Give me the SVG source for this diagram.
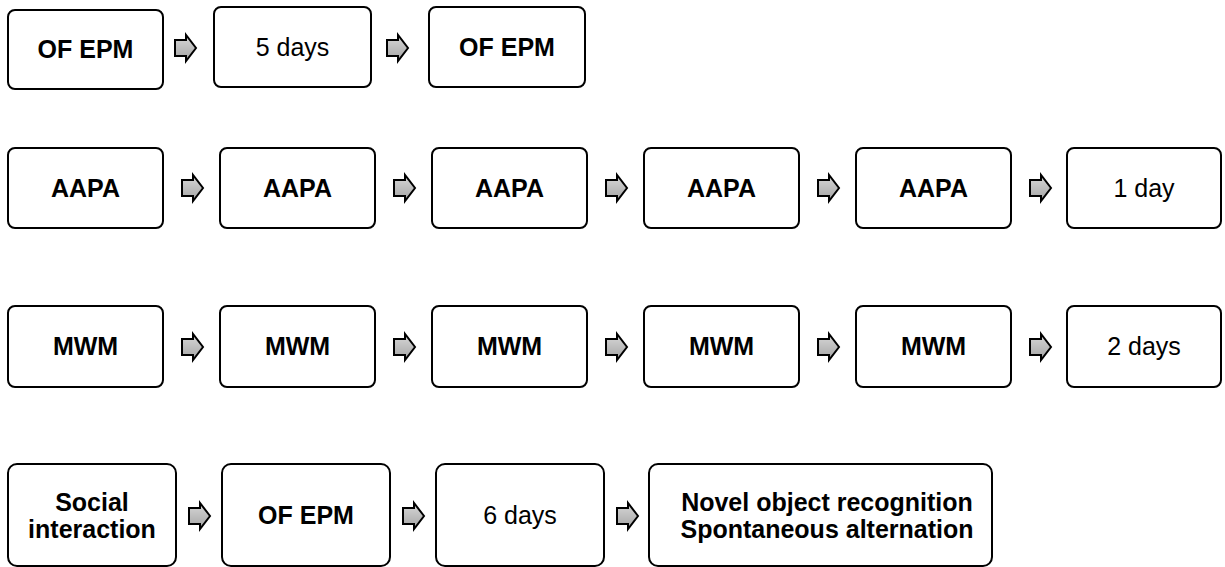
<svg xmlns="http://www.w3.org/2000/svg" xmlns:xlink="http://www.w3.org/1999/xlink" width="1225" height="567" viewBox="0 0 1225 567">
<style>
.box{fill:#fff;stroke:#000;stroke-width:2}
.b{font-family:"Liberation Sans",Arial,sans-serif;font-weight:bold;font-size:25px;text-anchor:middle;fill:#000}
.r{font-family:"Liberation Sans",Arial,sans-serif;font-size:25px;text-anchor:middle;fill:#000}
.arr{fill:url(#g);stroke:#000;stroke-width:2;stroke-linejoin:miter}
</style>
<defs>
<linearGradient id="g" x1="0" y1="0" x2="0" y2="1">
<stop offset="0" stop-color="#d8d8d8"/>
<stop offset="1" stop-color="#a4a4a4"/>
</linearGradient>
<path id="a" class="arr" d="M0,-8 H11 V-13 L21,0 L11,13 V8 H0 Z"/>
</defs>
<rect width="1225" height="567" fill="#fff"/>
<!-- Row 1 -->
<g id="r1n1"><rect class="box" x="8" y="10" width="155" height="79" rx="7"/><text class="b" x="85.5" y="58">OF EPM</text></g>
<g id="r1n2"><rect class="box" x="214" y="7" width="157" height="80" rx="7"/><text class="r" x="292.5" y="56">5 days</text></g>
<g id="r1n3"><rect class="box" x="429" y="7" width="156" height="80" rx="7"/><text class="b" x="507" y="56">OF EPM</text></g>
<!-- Row 2 -->
<g id="r2n1"><rect class="box" x="8" y="148" width="155" height="80" rx="7"/><text class="b" x="85.5" y="197">AAPA</text></g>
<g id="r2n2"><rect class="box" x="220" y="148" width="155" height="80" rx="7"/><text class="b" x="297.5" y="197">AAPA</text></g>
<g id="r2n3"><rect class="box" x="432" y="148" width="155" height="80" rx="7"/><text class="b" x="509.5" y="197">AAPA</text></g>
<g id="r2n4"><rect class="box" x="644" y="148" width="155" height="80" rx="7"/><text class="b" x="721.5" y="197">AAPA</text></g>
<g id="r2n5"><rect class="box" x="856" y="148" width="155" height="80" rx="7"/><text class="b" x="933.5" y="197">AAPA</text></g>
<g id="r2n6"><rect class="box" x="1067" y="148" width="154" height="80" rx="7"/><text class="r" x="1144" y="197">1 day</text></g>
<!-- Row 3 -->
<g id="r3n1"><rect class="box" x="8" y="306" width="155" height="81" rx="7"/><text class="b" x="85.5" y="355">MWM</text></g>
<g id="r3n2"><rect class="box" x="220" y="306" width="155" height="81" rx="7"/><text class="b" x="297.5" y="355">MWM</text></g>
<g id="r3n3"><rect class="box" x="432" y="306" width="155" height="81" rx="7"/><text class="b" x="509.5" y="355">MWM</text></g>
<g id="r3n4"><rect class="box" x="644" y="306" width="155" height="81" rx="7"/><text class="b" x="721.5" y="355">MWM</text></g>
<g id="r3n5"><rect class="box" x="856" y="306" width="155" height="81" rx="7"/><text class="b" x="933.5" y="355">MWM</text></g>
<g id="r3n6"><rect class="box" x="1067" y="306" width="154" height="81" rx="7"/><text class="r" x="1144" y="355">2 days</text></g>
<!-- Row 4 -->
<g id="r4n1"><rect class="box" x="8" y="464" width="168" height="102" rx="9"/><text class="b" x="92" y="511">Social</text><text class="b" x="92" y="538">interaction</text></g>
<g id="r4n2"><rect class="box" x="222" y="464" width="168" height="102" rx="9"/><text class="b" x="306" y="524">OF EPM</text></g>
<g id="r4n3"><rect class="box" x="436" y="464" width="168" height="102" rx="9"/><text class="r" x="520" y="524">6 days</text></g>
<g id="r4n4"><rect class="box" x="649" y="464" width="343" height="102" rx="9"/><text class="b" x="827" y="511">Novel object recognition</text><text class="b" x="827" y="538">Spontaneous alternation</text></g>
<!-- Connectors -->
<g id="connectors">
<use xlink:href="#a" x="175" y="48"/>
<use xlink:href="#a" x="387" y="48"/>
<use xlink:href="#a" x="182" y="188"/>
<use xlink:href="#a" x="394" y="188"/>
<use xlink:href="#a" x="606" y="188"/>
<use xlink:href="#a" x="818" y="188"/>
<use xlink:href="#a" x="1030" y="188"/>
<use xlink:href="#a" x="182" y="347"/>
<use xlink:href="#a" x="394" y="347"/>
<use xlink:href="#a" x="606" y="347"/>
<use xlink:href="#a" x="818" y="347"/>
<use xlink:href="#a" x="1030" y="347"/>
<use xlink:href="#a" x="189" y="516"/>
<use xlink:href="#a" x="403" y="516"/>
<use xlink:href="#a" x="617" y="516"/>
</g>
</svg>
